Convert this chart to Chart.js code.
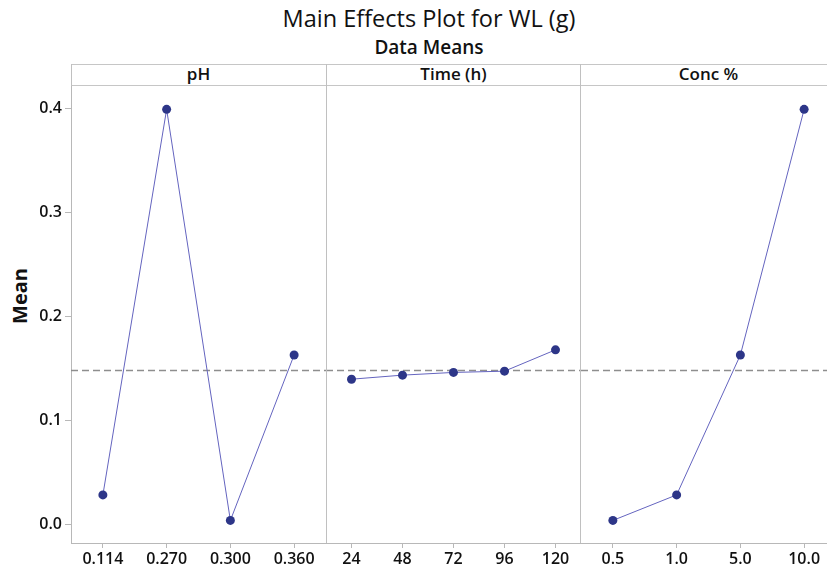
<!DOCTYPE html>
<html>
<head>
<meta charset="utf-8">
<script src="https://cdn.jsdelivr.net/npm/chart.js@4.4.1/dist/chart.umd.min.js"></script>
<style>
html,body{margin:0;padding:0;background:#fff;overflow:hidden;}
#wrap{position:relative;width:827px;height:574px;overflow:hidden;font-family:"Open Sans",sans-serif;color:#111;}
.ttl{position:absolute;left:0;width:858px;text-align:center;white-space:nowrap;}
#main{top:2px;font-size:23.5px;font-weight:500;}
#sub{top:34px;font-size:19px;font-weight:600;}
#strip{position:absolute;left:71px;top:64px;width:765px;height:20px;border-top:1px solid #c6c6c6;border-bottom:1px solid #c6c6c6;}
.cell{position:absolute;top:-1px;height:20px;line-height:20px;text-align:center;font-size:17px;font-weight:600;}
.vline{position:absolute;top:64px;width:1px;height:479px;background:#c0c0c0;}
#ylab{position:absolute;left:19px;top:296px;transform:translate(-50%,-50%) rotate(-90deg);font-size:20px;font-weight:700;white-space:nowrap;}
canvas{position:absolute;top:85px;}
</style>
</head>
<body>
<div id="wrap">
  <div class="ttl" id="main">Main Effects Plot for WL (g)</div>
  <div class="ttl" id="sub">Data Means</div>
  <div id="strip">
    <div class="cell" style="left:0;width:255px">pH</div>
    <div class="cell" style="left:255px;width:255px">Time (h)</div>
    <div class="cell" style="left:510px;width:255px">Conc %</div>
  </div>
  <div id="ylab">Mean</div>
  <canvas id="cPh" width="326" height="489" style="left:0"></canvas>
  <canvas id="cTime" width="255" height="489" style="left:326px"></canvas>
  <canvas id="cConc" width="255" height="489" style="left:581px"></canvas>
  <div class="vline" style="left:71px;height:22px"></div>
  <div class="vline" style="left:326px"></div>
  <div class="vline" style="left:580px"></div>
</div>
<script>
// factor levels and the mean response at each level
const phLevels = ['0.114', '0.270', '0.300', '0.360'];
const phMeans = [0.0285, 0.399, 0.004, 0.163];
const timeLevels = ['24', '48', '72', '96', '120'];
const timeMeans = [0.1397, 0.1436, 0.1462, 0.1474, 0.1679];
const concLevels = ['0.5', '1.0', '5.0', '10.0'];
const concMeans = [0.004, 0.0285, 0.163, 0.399];
const grandMean = 0.1486;
const yTicks = [0, 0.1, 0.2, 0.3, 0.4];
const yMin = -0.0177, yMax = 0.4224;

const axisGrey = '#b8b8b8';
const tickFont = {family: '"Open Sans", sans-serif', size: 16, weight: '600'};

// dashed horizontal line at the overall mean
const meanLine = {
    id: 'meanLine',
    beforeDatasetsDraw(chart){
        const {ctx, chartArea, scales} = chart;
        const py = Math.round(scales.y.getPixelForValue(grandMean)) + 0.5;
        ctx.save();
        ctx.strokeStyle = '#8e8e8e';
        ctx.lineWidth = 1.5;
        ctx.setLineDash([7, 4]);
        ctx.beginPath();
        ctx.moveTo(chartArea.left, py);
        ctx.lineTo(chartArea.right, py);
        ctx.stroke();
        ctx.restore();
    }
};

function makePanel(id, levels, means, showY){
    new Chart(document.getElementById(id), {
        type: 'line',
        data: {
            labels: levels,
            datasets: [{
                data: means,
                borderColor: '#6464bf',
                borderWidth: 1,
                pointRadius: 4.5,
                pointHoverRadius: 4.5,
                pointBackgroundColor: '#2d3688',
                pointBorderColor: '#2d3688',
                pointBorderWidth: 0,
                tension: 0,
                clip: false
            }]
        },
        options: {
            responsive: false,
            animation: false,
            devicePixelRatio: 1,
            layout: {padding: 0, autoPadding: false},
            plugins: {legend: {display: false}, tooltip: {enabled: false}},
            scales: {
                x: {
                    offset: true,
                    grid: {display: true, drawOnChartArea: false, color: axisGrey, tickLength: 5},
                    border: {display: true, color: axisGrey},
                    ticks: {color: '#111', font: tickFont, padding: 2, maxRotation: 0},
                    afterFit: s => { s.height = 31; s.paddingLeft = 0; s.paddingRight = 0; }
                },
                y: {
                    display: showY,
                    min: yMin,
                    max: yMax,
                    afterBuildTicks: s => { s.ticks = yTicks.map(v => ({value: v})); },
                    grid: {display: true, drawOnChartArea: false, color: axisGrey, tickLength: 6},
                    border: {display: true, color: axisGrey},
                    ticks: {color: '#111', font: tickFont, padding: 3, callback: v => v.toFixed(1)},
                    afterFit: s => { s.width = showY ? 71 : 0; s.paddingTop = 0; s.paddingBottom = 0; }
                }
            }
        },
        plugins: [meanLine]
    });
}

makePanel('cPh', phLevels, phMeans, true);
makePanel('cTime', timeLevels, timeMeans, false);
makePanel('cConc', concLevels, concMeans, false);
</script>
</body>
</html>
